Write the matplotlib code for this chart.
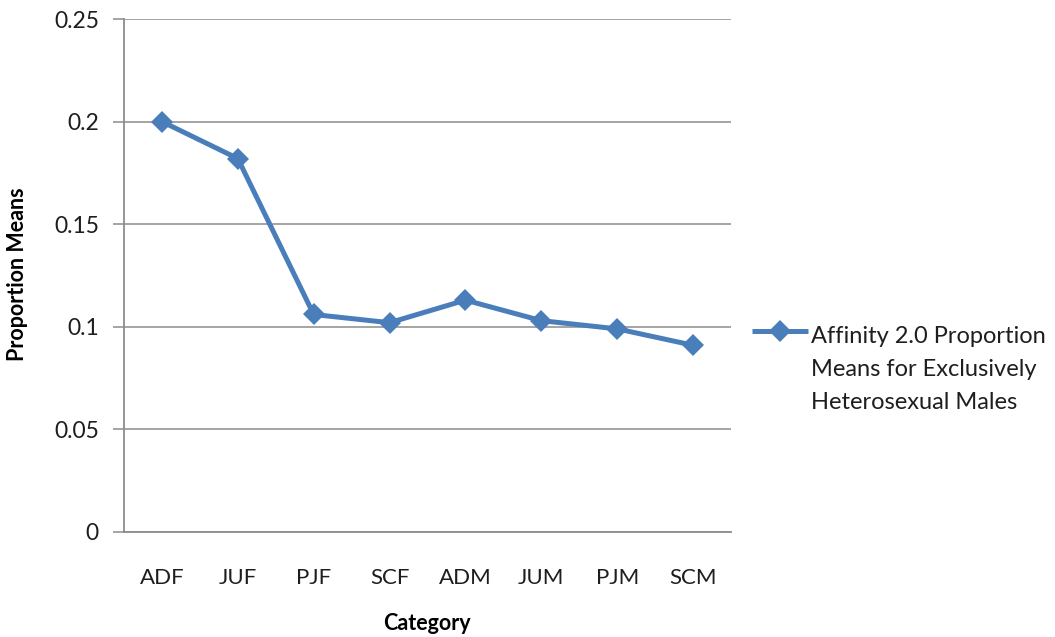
import matplotlib
matplotlib.use("Agg")
import matplotlib.pyplot as plt
from matplotlib.lines import Line2D

plt.rcParams['font.family'] = ['Lato', 'DejaVu Sans']

categories = ["ADF", "JUF", "PJF", "SCF", "ADM", "JUM", "PJM", "SCM"]
proportion_means = [0.200, 0.182, 0.106, 0.102, 0.113, 0.103, 0.099, 0.091]
series_label_lines = ["Affinity 2.0 Proportion",
                      "Means for Exclusively",
                      "Heterosexual Males"]
y_ticks = [0, 0.05, 0.1, 0.15, 0.2, 0.25]
y_tick_labels = ["0", "0.05", "0.1", "0.15", "0.2", "0.25"]

line_color = "#4A7EBB"
grid_color = "#8C8C8C"
text_color = "#1E1E1E"

fig_w, fig_h = 1055, 637
fig = plt.figure(figsize=(fig_w / 100, fig_h / 100), dpi=100)
ax = fig.add_axes([124 / fig_w, 1 - 532 / fig_h, 607 / fig_w, 513 / fig_h])

x = list(range(len(categories)))
ax.plot(x, proportion_means, color=line_color, linewidth=3.6,
        marker="D", markersize=11, markeredgewidth=0, zorder=3)

ax.set_xlim(-0.5, len(categories) - 0.5)
ax.set_ylim(0, 0.25)
ax.set_yticks(y_ticks)
ax.set_yticklabels(y_tick_labels, fontsize=16.5, color=text_color)
ax.set_xticks(x)
ax.set_xticklabels(categories, fontsize=16, color=text_color)

ax.yaxis.grid(True, color=grid_color, linewidth=1.1)
ax.set_axisbelow(True)
for side in ("top", "right"):
    ax.spines[side].set_visible(False)
for side in ("left", "bottom"):
    ax.spines[side].set_color(grid_color)
    ax.spines[side].set_linewidth(1.3)

ax.tick_params(axis="y", length=8, width=1.1, color=grid_color, pad=10)
ax.tick_params(axis="x", length=0, pad=26)

# Axis titles
fig.text(18 / fig_w, 1 - 274 / fig_h, "Proportion Means", rotation=90,
         fontsize=15.5, fontweight="bold", color="black",
         ha="center", va="center")
fig.text(427 / fig_w, 1 - 624 / fig_h, "Category",
         fontsize=15.5, fontweight="bold", color="black",
         ha="center", va="center")

# Legend entry: sample line with marker and wrapped label
y_leg = 1 - 331 / fig_h
fig.add_artist(Line2D([752 / fig_w, 808 / fig_w], [y_leg, y_leg],
                      transform=fig.transFigure, color=line_color,
                      linewidth=3.6, solid_capstyle="butt"))
fig.add_artist(Line2D([780 / fig_w], [y_leg], transform=fig.transFigure,
                      color=line_color, marker="D", markersize=11,
                      markeredgewidth=0))
for i, line in enumerate(series_label_lines):
    fig.text(811 / fig_w, 1 - (343 + 33 * i) / fig_h, line, fontsize=17,
             color=text_color, va="baseline", ha="left")

fig.savefig("out.png", dpi=100)
